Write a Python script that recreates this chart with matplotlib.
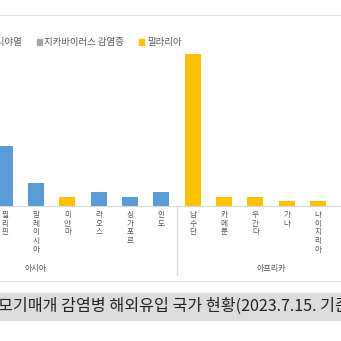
import matplotlib
matplotlib.use("Agg")
import matplotlib.pyplot as plt
from matplotlib.patches import Patch, Rectangle
from matplotlib.lines import Line2D
import matplotlib.transforms as mtransforms

plt.rcParams['font.family'] = ['Noto Sans CJK KR', 'DejaVu Sans']

# data (cropped view of the original chart)
countries = ["필리핀", "말레이시아", "미얀마", "라오스", "싱가포르", "인도",
             "남수단", "카메룬", "우간다", "가나", "나이지리아"]
disease = ["뎅기열", "뎅기열", "말라리아", "뎅기열", "뎅기열", "뎅기열",
           "말라리아", "말라리아", "말라리아", "말라리아", "말라리아"]
cases = [13, 5, 2, 3, 2, 3, 33, 2, 2, 1, 1]
series = ["뎅기열", "치쿤구니야열", "지카바이러스 감염증", "말라리아"]
colors = {"뎅기열": "#5B9BD5", "치쿤구니야열": "#ED7D31",
          "지카바이러스 감염증": "#A5A5A5", "말라리아": "#FFC000"}
groups = ["아시아", "아프리카"]
group_spans = [(-3.5, 5.5), (5.5, 11.5)]  # category index ranges (Asia partly off-crop)
title = "모기매개 감염병 해외유입 국가 현황(2023.7.15. 기준)"

W = 341
fig = plt.figure(figsize=(W / 100, W / 100), dpi=100)
fig.patch.set_facecolor("white")

base_px, top_px = 205.7, 50
ax = fig.add_axes([0, 1 - base_px / W, 1, (base_px - top_px) / W])
x = list(range(len(countries)))
ax.bar(x, cases, width=0.51, color=[colors[d] for d in disease], zorder=2)
ax.set_xlim(-0.15, 10.73)
ax.set_ylim(0, (base_px - top_px) / 4.6)
for s in ["top", "right", "left"]:
    ax.spines[s].set_visible(False)
ax.spines["bottom"].set_color("#D9D9D9")
ax.set_yticks([])
ax.set_xticks(x)
ax.set_xticklabels(["\n".join(c) for c in countries], fontsize=5.5,
                   color="#595959", linespacing=1.1, va="top")
ax.tick_params(axis="x", length=0, pad=4)

# group separators and labels
trans = mtransforms.blended_transform_factory(ax.transData, ax.transAxes)
h_ax = base_px - top_px
sep_bottom = -(275 - base_px) / h_ax
for (a, b), g in zip(group_spans, groups):
    for edge in (a, b):
        ax.plot([edge, edge], [0, sep_bottom], transform=trans, color="#D9D9D9",
                lw=0.8, clip_on=False)
    ax.text((a + b) / 2, -(268 - base_px) / h_ax, g, transform=trans,
            ha="center", va="center", fontsize=5.8, color="#595959")

# legend
handles = [Patch(color=colors[s]) for s in series]
fig.legend(handles, series, loc="center right", ncol=4,
           bbox_to_anchor=(186 / W, 1 - 43 / W), frameon=False, fontsize=6.8,
           borderpad=0, handlelength=0.5, handleheight=0.5, handletextpad=0.3,
           columnspacing=1.6, labelcolor="#595959")

# page decorations around the chart
fig.add_artist(Line2D([0, 1], [1 - 15 / W, 1 - 15 / W], color="#DDDDDD", lw=0.8))
fig.add_artist(Line2D([0, 1], [1 - 281 / W, 1 - 281 / W], color="#DDDDDD", lw=0.8))
fig.add_artist(Rectangle((0, 1 - 320 / W), 1, 27 / W, transform=fig.transFigure,
                         color="#DCDCDC", zorder=0))
fig.text(-0.005, 1 - 306 / W, title, ha="left", va="center", fontsize=11.6,
         color="#222222")

fig.savefig("out.png", dpi=100)
